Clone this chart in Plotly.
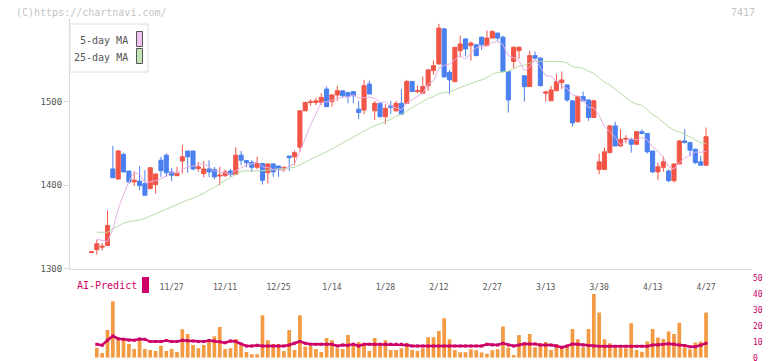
import plotly.graph_objects as go

# ---------------- data ----------------
opens = [1319.5, 1323, 1326, 1328, 1419.5, 1407.5, 1437, 1417, 1404, 1405,
         1402, 1396, 1401, 1430, 1436, 1416, 1411.5, 1429, 1441, 1441,
         1420, 1414, 1419.5, 1419, 1411, 1411.5, 1417, 1413, 1436, 1429.5,
         1427.5, 1421.5, 1426, 1415, 1425.5, 1423, 1419.5, 1435, 1434, 1445.5,
         1489, 1499, 1499, 1499, 1515, 1500, 1508, 1513, 1511, 1512,
         1491, 1490, 1521, 1489, 1498, 1482, 1495, 1489, 1498, 1498,
         1524, 1512, 1510, 1519, 1537, 1545, 1587, 1535, 1524, 1561,
         1575, 1567, 1568, 1577, 1567, 1576, 1582, 1577, 1536, 1548,
         1561, 1531, 1518, 1555, 1552, 1510, 1501, 1513, 1523, 1520,
         1501, 1476, 1506, 1502, 1481, 1419, 1419, 1439, 1471, 1447,
         1455, 1455, 1449, 1464, 1462, 1441, 1416, 1421.5, 1417, 1405.5,
         1425.5, 1453, 1451, 1443, 1428, 1424]
highs = [1320.5, 1335, 1331, 1370, 1447, 1442, 1439, 1417, 1417, 1423,
         1418, 1421, 1414, 1434, 1438, 1421, 1422, 1448, 1441, 1441,
         1428, 1429, 1430, 1422, 1422, 1419, 1419.5, 1445.5, 1441, 1430,
         1430, 1434, 1426, 1426, 1426.5, 1423, 1422, 1435, 1441.5, 1489,
         1499.5, 1503, 1505, 1510, 1518, 1509, 1519, 1513, 1511, 1512,
         1501, 1526, 1525, 1501, 1499, 1497, 1501, 1501, 1515, 1526,
         1525, 1519, 1530, 1538, 1549, 1593, 1588, 1538, 1565, 1579,
         1576, 1572, 1569, 1578, 1585, 1585, 1582, 1579, 1536, 1566,
         1566, 1531, 1561, 1560, 1553, 1513, 1519, 1533, 1536, 1520,
         1501, 1507, 1512, 1502, 1502, 1438, 1445, 1472, 1476, 1467,
         1460, 1457, 1465, 1467, 1462, 1441, 1427, 1435, 1419, 1426,
         1454, 1467, 1452, 1444, 1435, 1469]
lows = [1319.5, 1317, 1322, 1328, 1409, 1407, 1415, 1402, 1399, 1394,
        1388, 1396, 1390, 1410, 1410, 1405, 1411, 1414, 1415, 1418,
        1416, 1409.5, 1410, 1407, 1400, 1410, 1410, 1413, 1424, 1421.5,
        1416, 1419, 1401, 1402, 1410, 1410, 1416, 1417, 1424, 1440,
        1489, 1495, 1496, 1496, 1494, 1494, 1501, 1505, 1498, 1498,
        1479, 1485, 1509, 1478, 1481, 1473, 1485, 1488, 1485, 1498,
        1512, 1510, 1510, 1513, 1532, 1545, 1529, 1509, 1523, 1553,
        1554, 1549, 1555, 1562, 1567, 1575, 1572, 1535, 1487, 1539,
        1551, 1500, 1518, 1551, 1519, 1500, 1501, 1513, 1515, 1500,
        1470, 1475, 1500, 1477, 1481, 1413, 1418, 1439, 1447, 1446,
        1450, 1439, 1449, 1461, 1438, 1415, 1406, 1416, 1404, 1403,
        1425, 1450, 1435, 1425.5, 1424, 1424]
closes = [1320.5, 1330, 1327, 1352, 1409, 1441, 1416, 1404, 1406, 1399.5,
          1388, 1421, 1413.5, 1417.5, 1415, 1412, 1414.7, 1434, 1434, 1419.5,
          1422, 1419.5, 1416, 1410, 1412, 1416, 1413, 1436, 1430, 1427,
          1421.5, 1426, 1406, 1425.5, 1416, 1419, 1421.5, 1433, 1439, 1489,
          1499, 1500, 1501, 1505, 1494, 1508, 1513, 1507, 1506, 1507,
          1487, 1519, 1509, 1498, 1482, 1492, 1493, 1498, 1485, 1524,
          1512, 1513, 1518, 1538, 1543, 1588, 1529.5, 1526, 1565, 1569,
          1563, 1570, 1555, 1568, 1576, 1584, 1576, 1536, 1502, 1565,
          1565, 1518, 1555, 1552, 1519, 1511.5, 1514, 1524, 1526, 1502,
          1474.5, 1506, 1501, 1481, 1501, 1428, 1440, 1471, 1447, 1455,
          1456, 1449, 1464, 1462, 1440, 1416, 1422, 1428, 1405.5, 1425.5,
          1453, 1451, 1442, 1427, 1424, 1458]
volumes = [None, 6.25, 2.9, 17.3, 35.4, 11.5, 11, 8.6, 5.4, 11,
           5.4, 4.8, 4.2, 7.5, 4.2, 5.4, 3.6, 17.9, 14.8, 7.9,
           6, 7.9, 10.2, 13.5, 19.2, 5.4, 6, 11.7, 7.3, 3.6,
           2.1, 2.1, 26.7, 11, 8.6, 8.6, 4.2, 17.3, 4.8, 26.7,
           6.9, 7.3, 5.4, 3.6, 12.3, 11, 6, 5.4, 14.2, 7.3,
           9.8, 9.2, 4.2, 12.3, 7.3, 11, 4.8, 4.8, 6, 9.2,
           4.8, 4.2, 5.9, 12.8, 12.8, 16.8, 24.8, 11.6, 4.8, 3.4,
           3.4, 5.3, 4.6, 3.2, 2.5, 4.6, 5.3, 19.5, 6.3, 1.7,
           14.3, 9, 14.9, 6.5, 9, 9.9, 4.8, 8.6, 6.3, 7.4,
           18, 11.6, 6.5, 18, 40, 28.4, 11.6, 9, 6.5, 5.9,
           5.9, 21.6, 4.8, 3.8, 10.1, 18, 12.6, 11.8, 16.4, 14.9,
           22, 6.5, 5.3, 9.5, 10.1, 28.4]
ai_predict = [None, 8.4, 7.8, 11, 13.6, 11.9, 11.5, 11, 11, 11.7,
              11.5, 10.1, 10.1, 10.1, 10.8, 10.1, 10.1, 11, 10.6, 10.4,
              10.1, 10.1, 10.8, 10.4, 10.1, 9.4, 10.4, 10.1, 8.6, 7.4,
              7.4, 7.8, 7.4, 7.4, 7.4, 7.4, 7.4, 8, 9, 10.2,
              9, 8.4, 8.4, 8.4, 8.4, 8.4, 7.4, 8, 7.8, 8.4,
              7.4, 8.4, 8.4, 8.4, 8.4, 8.4, 8.4, 8.4, 8.4, 8,
              7.4, 7.4, 7.4, 7.4, 7.4, 7.4, 7.4, 7.4, 7.4, 7.4,
              7.4, 7.4, 7.4, 7.4, 8.4, 8, 8, 9, 8, 7.4,
              8, 8.8, 8.6, 8.6, 8, 8, 8, 7.4, 6.5, 7.4,
              8.6, 8.4, 8, 7.6, 7.4, 7.2, 7.2, 7.2, 7.2, 7.2,
              7.2, 7.2, 7.2, 7.2, 7.2, 8, 8, 8.4, 8.8, 8.6,
              8, 7.6, 6.9, 6.9, 7.8, 9]
# moving-average values before a full window exists
ma5_head = [None, 1335.5, 1334, 1332.5]
ma25_head = [None, 1343.8, 1343.8, 1343.8, 1348, 1351.3, 1354.5, 1356.5, 1357.3,
             1358.5, 1360.5, 1363.3, 1366.5, 1369.3, 1371.7, 1374.4, 1377.3,
             1380, 1382.4, 1384.4, 1387.2, 1390.4, 1394.4, 1397.6]
tick_idx = [15, 25, 35, 45, 55, 65, 75, 85, 95, 105, 115]
tick_labels = ["11/27", "12/11", "12/25", "1/14", "1/28", "2/12",
               "2/27", "3/13", "3/30", "4/13", "4/27"]
price_ticks = [1300, 1400, 1500]
volume_ticks = [0, 10, 20, 30, 40, 50]

n = len(closes)
assert all(len(a) == n for a in (opens, highs, lows, volumes, ai_predict))
idx = list(range(n))


def moving_average(vals, window, head):
    out = list(head)
    for i in range(len(head), len(vals)):
        out.append(sum(vals[i - window + 1:i + 1]) / window)
    return out


ma5 = moving_average(closes, 5, ma5_head)
ma25 = moving_average(closes, 25, ma25_head)

# ---------------- styling ----------------
W, H = 772, 361
RED = "#f25546"
BLUE = "#4a80ef"
PINK = "#e6b0e6"
GREEN = "#b6dca4"
ORANGE = "#f39a42"
CRIMSON = "#cc0066"
AXIS = "#dcdcdc"
TXT = "#555555"
FONT = "DejaVu Sans Mono"


def xp(px):
    return px / W


def yp(py):
    return 1 - py / H


X0, X1 = 70, 752
xr = [-4.02, 123.6]

fig = go.Figure()
fig.add_trace(go.Candlestick(
    x=idx, open=opens, high=highs, low=lows, close=closes,
    increasing=dict(line=dict(color=RED, width=1), fillcolor=RED),
    decreasing=dict(line=dict(color=BLUE, width=1), fillcolor=BLUE),
    whiskerwidth=0, xaxis="x", yaxis="y", showlegend=False, hoverinfo="skip"))
fig.add_trace(go.Scatter(x=idx, y=ma25, mode="lines", line=dict(color=GREEN, width=1),
                         xaxis="x", yaxis="y", showlegend=False, hoverinfo="skip"))
fig.add_trace(go.Scatter(x=idx, y=ma5, mode="lines", line=dict(color=PINK, width=1),
                         xaxis="x", yaxis="y", showlegend=False, hoverinfo="skip"))
fig.add_trace(go.Bar(x=idx, y=volumes, marker=dict(color=ORANGE, line=dict(width=0)),
                     xaxis="x2", yaxis="y2", showlegend=False, hoverinfo="skip"))
fig.add_trace(go.Scatter(x=idx, y=ai_predict, mode="lines+markers",
                         line=dict(color=CRIMSON, width=2.5),
                         marker=dict(symbol="square", size=3, color=CRIMSON),
                         xaxis="x2", yaxis="y2", showlegend=False, hoverinfo="skip"))

shapes = [
    # legend box
    dict(type="rect", xref="paper", yref="paper", x0=xp(70), x1=xp(148), y0=yp(24), y1=yp(72),
         line=dict(color=AXIS, width=1), fillcolor="white", layer="above"),
    dict(type="rect", xref="paper", yref="paper", x0=xp(136.5), x1=xp(142.5), y0=yp(31.5), y1=yp(46.5),
         line=dict(color="#555555", width=1), fillcolor="#f0c4f0", layer="above"),
    dict(type="rect", xref="paper", yref="paper", x0=xp(136.5), x1=xp(142.5), y0=yp(48.5), y1=yp(63.5),
         line=dict(color="#555555", width=1), fillcolor="#c4e4b4", layer="above"),
    # AI-Predict marker
    dict(type="rect", xref="paper", yref="paper", x0=xp(142), x1=xp(149), y0=yp(277), y1=yp(293),
         line=dict(width=0), fillcolor=CRIMSON),
]
annotations = [
    dict(text="(C)https://chartnavi.com/", x=xp(14), y=yp(12), xref="paper", yref="paper",
         xanchor="left", yanchor="middle", showarrow=False, font=dict(family=FONT, size=10, color="#c4c4c4")),
    dict(text="7417", x=xp(757), y=yp(12), xref="paper", yref="paper",
         xanchor="right", yanchor="middle", showarrow=False, font=dict(family=FONT, size=10, color="#c4c4c4")),
    dict(text="5-day MA", x=xp(130), y=yp(40.5), xref="paper", yref="paper",
         xanchor="right", yanchor="middle", showarrow=False, font=dict(family=FONT, size=10, color=TXT)),
    dict(text="25-day MA", x=xp(130), y=yp(57), xref="paper", yref="paper",
         xanchor="right", yanchor="middle", showarrow=False, font=dict(family=FONT, size=10, color=TXT)),
    dict(text="AI-Predict", x=xp(75), y=yp(285), xref="paper", yref="paper",
         xanchor="left", yanchor="middle", showarrow=False, font=dict(family=FONT, size=10, color=CRIMSON)),
]

fig.update_layout(
    width=W, height=H, margin=dict(l=0, r=0, t=0, b=0),
    paper_bgcolor="white", plot_bgcolor="white", template="none",
    showlegend=False, boxgap=0.1, boxgroupgap=0.15, bargap=0.31,
    xaxis=dict(domain=[xp(X0), xp(X1)], range=xr, anchor="y",
               tickmode="array", tickvals=tick_idx, ticktext=tick_labels, ticks="",
               ticklabelstandoff=10,
               tickfont=dict(family=FONT, size=8, color=TXT),
               showline=True, linecolor=AXIS, linewidth=1, showgrid=False, zeroline=False,
               rangeslider=dict(visible=False), automargin=False, fixedrange=True),
    xaxis3=dict(overlaying="x", anchor="y", range=[0, 11], tickmode="array",
                tickvals=list(range(12)), ticks="outside", ticklen=5, tickcolor=AXIS,
                showticklabels=False, showline=False, showgrid=False, zeroline=False,
                automargin=False),
    yaxis=dict(domain=[yp(268.9), yp(18)], range=[1300, 1600], anchor="x",
               tickmode="array", tickvals=price_ticks, ticks="outside", ticklen=5, tickcolor=AXIS,
               tickfont=dict(family=FONT, size=9, color=TXT),
               showline=True, linecolor=AXIS, linewidth=1, showgrid=False, zeroline=False,
               automargin=False),
    xaxis2=dict(domain=[xp(X0), xp(X1)], range=xr, anchor="y2", showticklabels=False,
                ticks="", showline=False, showgrid=False, zeroline=False, automargin=False),
    yaxis2=dict(domain=[yp(357.7), yp(278)], range=[0, 50], anchor="x2", side="right",
                tickmode="array", tickvals=volume_ticks, ticks="",
                tickfont=dict(family=FONT, size=8, color=CRIMSON), ticklabeloverflow="allow",
                showline=False, showgrid=False, zeroline=False, automargin=False),
    shapes=shapes, annotations=annotations,
)

fig.write_html("out.html",
               config={"displayModeBar": False, "staticPlot": True},
               post_script="document.body.style.margin='0';document.body.style.overflow='hidden';")
